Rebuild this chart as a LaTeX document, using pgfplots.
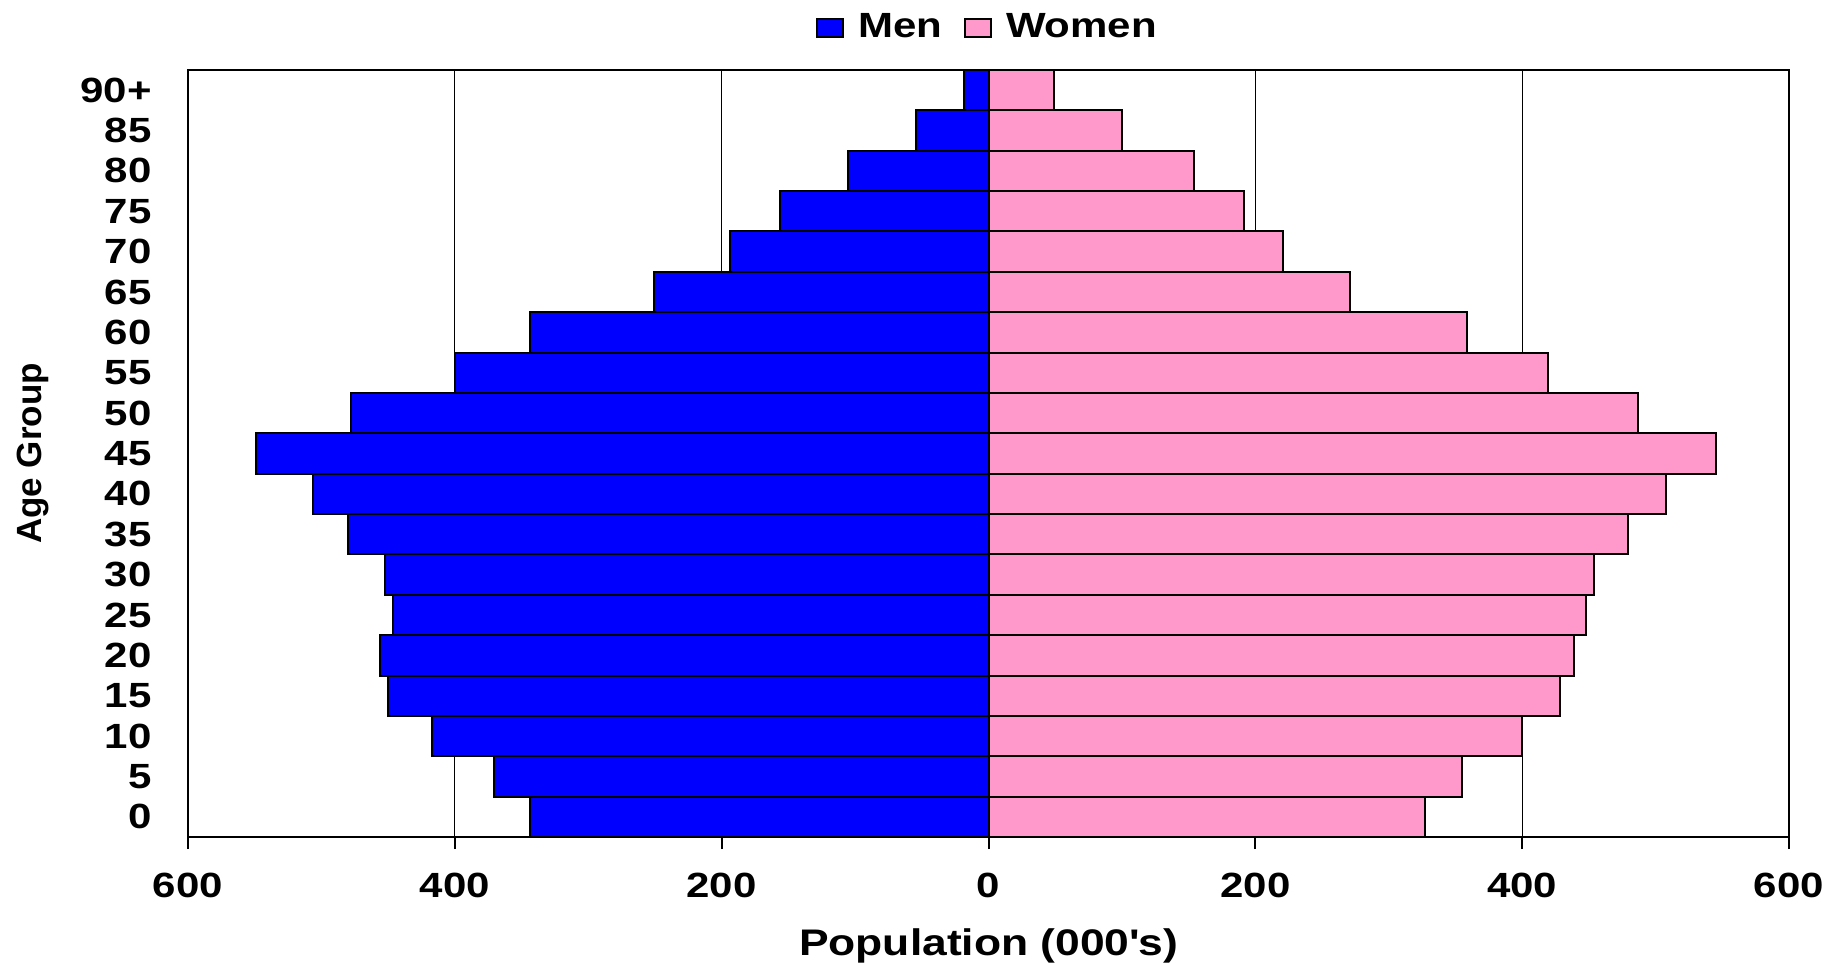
\documentclass[border=0pt]{standalone}
\usepackage{fontspec}
\setmainfont{Liberation Sans}[FakeStretch=1.2]
\newfontfamily\plainfont{Liberation Sans}
\usepackage{pgfplots}
\pgfplotsset{compat=1.18}
\definecolor{menblue}{RGB}{0,0,255}
\definecolor{womenpink}{RGB}{255,153,204}

\pgfplotstableread{
age men women
0  -344 327.5
1  -371 355
2  -417 400
3  -450 428
4  -456 439
5  -446 447.5
6  -452 454
7  -480 479
8  -506 507.5
9  -549 545
10 -477.5 487
11 -400 419
12 -344 359
13 -251 271
14 -194 221
15 -156 191.5
16 -105 154
17 -54 100
18 -18 49
}\pyramid

\begin{document}
\fontsize{17.5bp}{21bp}\selectfont\bfseries
\begin{tikzpicture}
\useasboundingbox (0,0) rectangle (915.5bp,481.5bp);
\begin{axis}[
    at={(94bp,63bp)}, anchor=south west,
    scale only axis,
    width=800.5bp, height=383.5bp,
    xbar, bar width=1, bar shift=0pt,
    xmin=-600, xmax=600,
    ymin=-0.5, ymax=18.5,
    xtick={-600,-400,-200,0,200,400,600},
    xticklabels={600,400,200,0,200,400,600},
    ytick={0,...,18},
    yticklabels={0,5,10,15,20,25,30,35,40,45,50,55,60,65,70,75,80,85,90+},
    /pgf/number format/assume math mode=true,
    tick align=outside,
    major tick length=6bp,
    xtick pos=bottom,
    ytick style={draw=none},
    xtick style={line width=1bp, black},
    xmajorgrids,
    grid style={line width=0.4bp, black},
    axis line style={line width=1bp},
    ticklabel style={font=\fontsize{17.5bp}{21bp}\selectfont\bfseries},
    xticklabel style={inner sep=0pt, yshift=-12bp},
    yticklabel style={inner sep=0pt, xshift=-12bp},
    xlabel={Population (000\textquotesingle s)},
    xlabel style={at={(axis description cs:0.5,0)}, anchor=center, yshift=-54.5bp,
        font=\fontsize{18.5bp}{22bp}\selectfont\bfseries},
    ylabel={Age Group},
    ylabel style={at={(axis description cs:0,0.5)}, anchor=center, rotate=0, yshift=77.5bp,
        font=\fontsize{17.5bp}{21bp}\selectfont\plainfont\bfseries},
    legend columns=2,
    legend style={at={(0.5,1)}, anchor=center, yshift=21bp, draw=none, fill=none,
        font=\fontsize{17.5bp}{21bp}\selectfont\bfseries,
        /tikz/every odd column/.append style={column sep=5bp},
        /tikz/every even column/.append style={column sep=9bp}},
    legend image code/.code={\draw[#1, line width=1bp] (0bp,-4.5bp) rectangle (13bp,4.5bp);},
]
\addplot[fill=menblue, draw=black, line width=1bp] table[x=men, y=age] {\pyramid};
\addlegendentry{Men}
\addplot[fill=womenpink, draw=black, line width=1bp] table[x=women, y=age] {\pyramid};
\addlegendentry{Women}
\end{axis}
\end{tikzpicture}
\end{document}
